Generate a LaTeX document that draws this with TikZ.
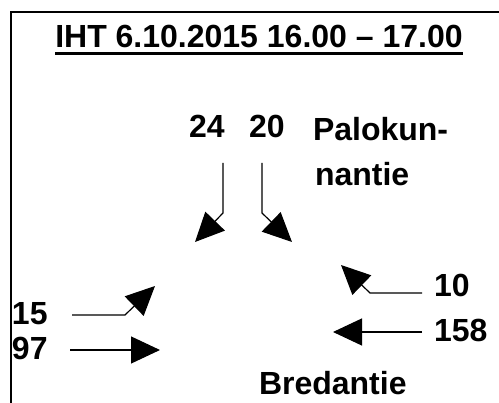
\documentclass[tikz,border=0pt]{standalone}
\usepackage{fontspec}
\setmainfont{Liberation Sans}
\usetikzlibrary{arrows.meta}
\begin{document}
\begin{tikzpicture}[x=1pt,y=-1pt,
  lbl/.style={inner sep=0pt,outer sep=0pt,anchor=base west,font=\fontsize{32}{36}\selectfont\bfseries},
  flow/.style={line width=1.2pt,-{Triangle[length=29pt,width=27pt]}},
  frame/.style={line width=1.4pt},
  uline/.style={line width=2.6pt}]
\useasboundingbox (0,0) rectangle (499,403);
\draw[frame] (11,410) -- (11,12) -- (510,12);
\node[inner sep=0pt,outer sep=0pt,anchor=base,font=\fontsize{32}{36}\selectfont\bfseries] (title) at (259,48) {IHT 6.10.2015 16.00 – 17.00};
\draw[uline] ([yshift=-5.5pt]title.base west) -- ([yshift=-5.5pt]title.base east);
\node[lbl] (n24) at (189,138) {24};
\node[lbl] (n20) at (249,138) {20};
\node[lbl] (pal) at (313,141) {Palokun-};
\node[lbl] (nan) at (315,186) {nantie};
\node[lbl] (n10) at (434,297) {10};
\node[lbl] (n158) at (434,342) {158};
\node[lbl] (n15) at (12,325) {15};
\node[lbl] (n97) at (12,360) {97};
\node[lbl] (bre) at (259,395) {Bredantie};
% arrow coordinates
\coordinate (a24s) at (223,163); \coordinate (a24b) at (223,213); \coordinate (a24e) at (195,242);
\coordinate (a20s) at (262,163); \coordinate (a20b) at (262,213); \coordinate (a20e) at (292,242);
\coordinate (a10s) at (422,293); \coordinate (a10b) at (370,293); \coordinate (a10e) at (341,265);
\coordinate (a158s) at (422,332); \coordinate (a158e) at (333,332);
\coordinate (a15s) at (72,315); \coordinate (a15b) at (125,315); \coordinate (a15e) at (155,286);
\coordinate (a97s) at (70,350); \coordinate (a97e) at (160,350);
\draw[flow] (a24s) -- (a24b) -- (a24e);
\draw[flow] (a20s) -- (a20b) -- (a20e);
\draw[flow] (a10s) -- (a10b) -- (a10e);
\draw[flow] (a158s) -- (a158e);
\draw[flow] (a15s) -- (a15b) -- (a15e);
\draw[flow] (a97s) -- (a97e);
\end{tikzpicture}
\end{document}
